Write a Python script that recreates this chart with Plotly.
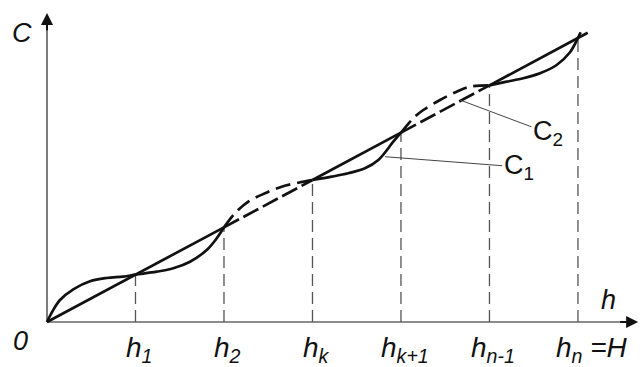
import plotly.graph_objects as go

# ---- data (h in units of the node spacing, C on the same scale; straight line is C = h)
h_nodes = [1, 2, 3, 4, 5, 6]
tick_labels = ["h<sub>1</sub>", "h<sub>2</sub>", "h<sub>k</sub>", "h<sub>k+1</sub>",
               "h<sub>n-1</sub>", "h<sub>n</sub> =H"]

line_h_solid1 = [0, 2]
line_h_dash1 = [2, 3]
line_h_solid2 = [3, 4]
line_h_dash2 = [4, 5]
line_h_solid3 = [5, 6.11]

# C1 – solid wavy pieces
c1a_h = [0, 0.06, 0.147, 0.297, 0.486, 0.675, 0.862, 1.0, 1.24, 1.427, 1.616, 1.805, 1.918, 2.0]
c1a_c = [0, 0.22, 0.465, 0.69, 0.86, 0.93, 0.96, 1.0, 1.063, 1.135, 1.274, 1.521, 1.768, 2.0]
c1b_h = [3, 3.217, 3.405, 3.593, 3.744, 3.913, 4.0]
c1b_c = [3, 3.07, 3.142, 3.247, 3.423, 3.809, 4.0]
c1c_h = [5, 5.194, 5.382, 5.571, 5.759, 5.91, 6.0, 6.03]
c1c_c = [5, 5.077, 5.149, 5.255, 5.43, 5.70, 6.0, 6.12]

# C2 – dashed wavy pieces
c2a_h = [2, 2.124, 2.275, 2.463, 2.652, 2.84, 3.0]
c2a_c = [2, 2.297, 2.542, 2.719, 2.859, 2.943, 3.0]
c2b_h = [4, 4.139, 4.252, 4.441, 4.629, 4.78, 5.0]
c2b_c = [4, 4.304, 4.479, 4.69, 4.866, 4.971, 5.0]

h_axis_end = 6.68
c_axis_end = 6.53

FONT = "Liberation Sans, Arial, sans-serif"
BLACK = "#111111"
GREY = "#666666"

fig = go.Figure()

def add_line(xs, ys, dash="solid", width=2.7, color=BLACK, shape="spline"):
    fig.add_trace(go.Scatter(x=xs, y=ys, mode="lines",
                             line=dict(color=color, width=width, dash=dash, shape=shape),
                             hoverinfo="skip"))

# axes
add_line([0, h_axis_end - 0.15], [0, 0], color=GREY, width=1.7, shape="linear")
add_line([0, 0], [0, c_axis_end - 0.3], color=GREY, width=1.7, shape="linear")

# vertical dashed guides
for h in h_nodes:
    add_line([h, h], [0, h], dash="12px,6px", color="#555555", width=1.3, shape="linear")

# straight line
for seg, d in [(line_h_solid1, "solid"), (line_h_dash1, "17px,5px"), (line_h_solid2, "solid"),
               (line_h_dash2, "17px,5px"), (line_h_solid3, "solid")]:
    add_line(seg, seg, dash=d, shape="linear")

# C1 and C2
add_line(c1a_h, c1a_c)
add_line(c1b_h, c1b_c)
add_line(c1c_h, c1c_c)
add_line(c2a_h, c2a_c, dash="15px,7px")
add_line(c2b_h, c2b_c, dash="15px,7px")

ann = []
# arrowheads
ann.append(dict(x=h_axis_end, y=0, ax=h_axis_end - 0.22, ay=0, xref="x", yref="y",
                axref="x", ayref="y", text="", showarrow=True, arrowhead=2,
                arrowsize=1.2, arrowwidth=2, arrowcolor=BLACK, standoff=0))
ann.append(dict(x=0, y=c_axis_end, ax=0, ay=c_axis_end - 0.4, xref="x", yref="y",
                axref="x", ayref="y", text="", showarrow=True, arrowhead=2,
                arrowsize=1.2, arrowwidth=2, arrowcolor=BLACK, standoff=0))

# axis names
ann.append(dict(x=-0.28, y=6.1, text="<i>C</i>", showarrow=False,
                font=dict(family=FONT, size=27, color=BLACK)))
ann.append(dict(x=6.34, y=0.46, text="<i>h</i>", showarrow=False,
                font=dict(family=FONT, size=27, color=BLACK)))
ann.append(dict(x=-0.3, y=-0.4, text="<i>0</i>", showarrow=False,
                font=dict(family=FONT, size=27, color=BLACK)))

# tick labels
for h, lab in zip(h_nodes, tick_labels):
    xs = 14 if "=H" in lab else 4
    ann.append(dict(x=h, y=-0.17, text="<i>" + lab + "</i>", showarrow=False,
                    yanchor="top", xshift=xs,
                    font=dict(family=FONT, size=28, color=BLACK)))

# curve labels with leader lines
ann.append(dict(x=3.819, y=3.492, ax=5.33, ay=3.275, axref="x", ayref="y",
                text="C<sub>1</sub>", showarrow=True, arrowhead=0, arrowwidth=1,
                arrowcolor="#444444", standoff=0,
                font=dict(family=FONT, size=27, color=BLACK)))
ann.append(dict(x=4.667, y=4.69, ax=5.66, ay=3.993, axref="x", ayref="y",
                text="C<sub>2</sub>", showarrow=True, arrowhead=0, arrowwidth=1,
                arrowcolor="#444444", standoff=0,
                font=dict(family=FONT, size=27, color=BLACK)))

fig.update_layout(
    width=640, height=367, margin=dict(l=0, r=0, t=0, b=0),
    paper_bgcolor="white", plot_bgcolor="white", showlegend=False,
    xaxis=dict(visible=False, range=[-0.531, 6.701], fixedrange=True),
    yaxis=dict(visible=False, range=[-0.951, 6.803], fixedrange=True),
    annotations=ann,
)

fig.write_html("out.html", config={"displayModeBar": False},
               post_script="document.body.style.margin='0';document.body.style.padding='0';"
                           "document.documentElement.style.overflow='hidden';")
